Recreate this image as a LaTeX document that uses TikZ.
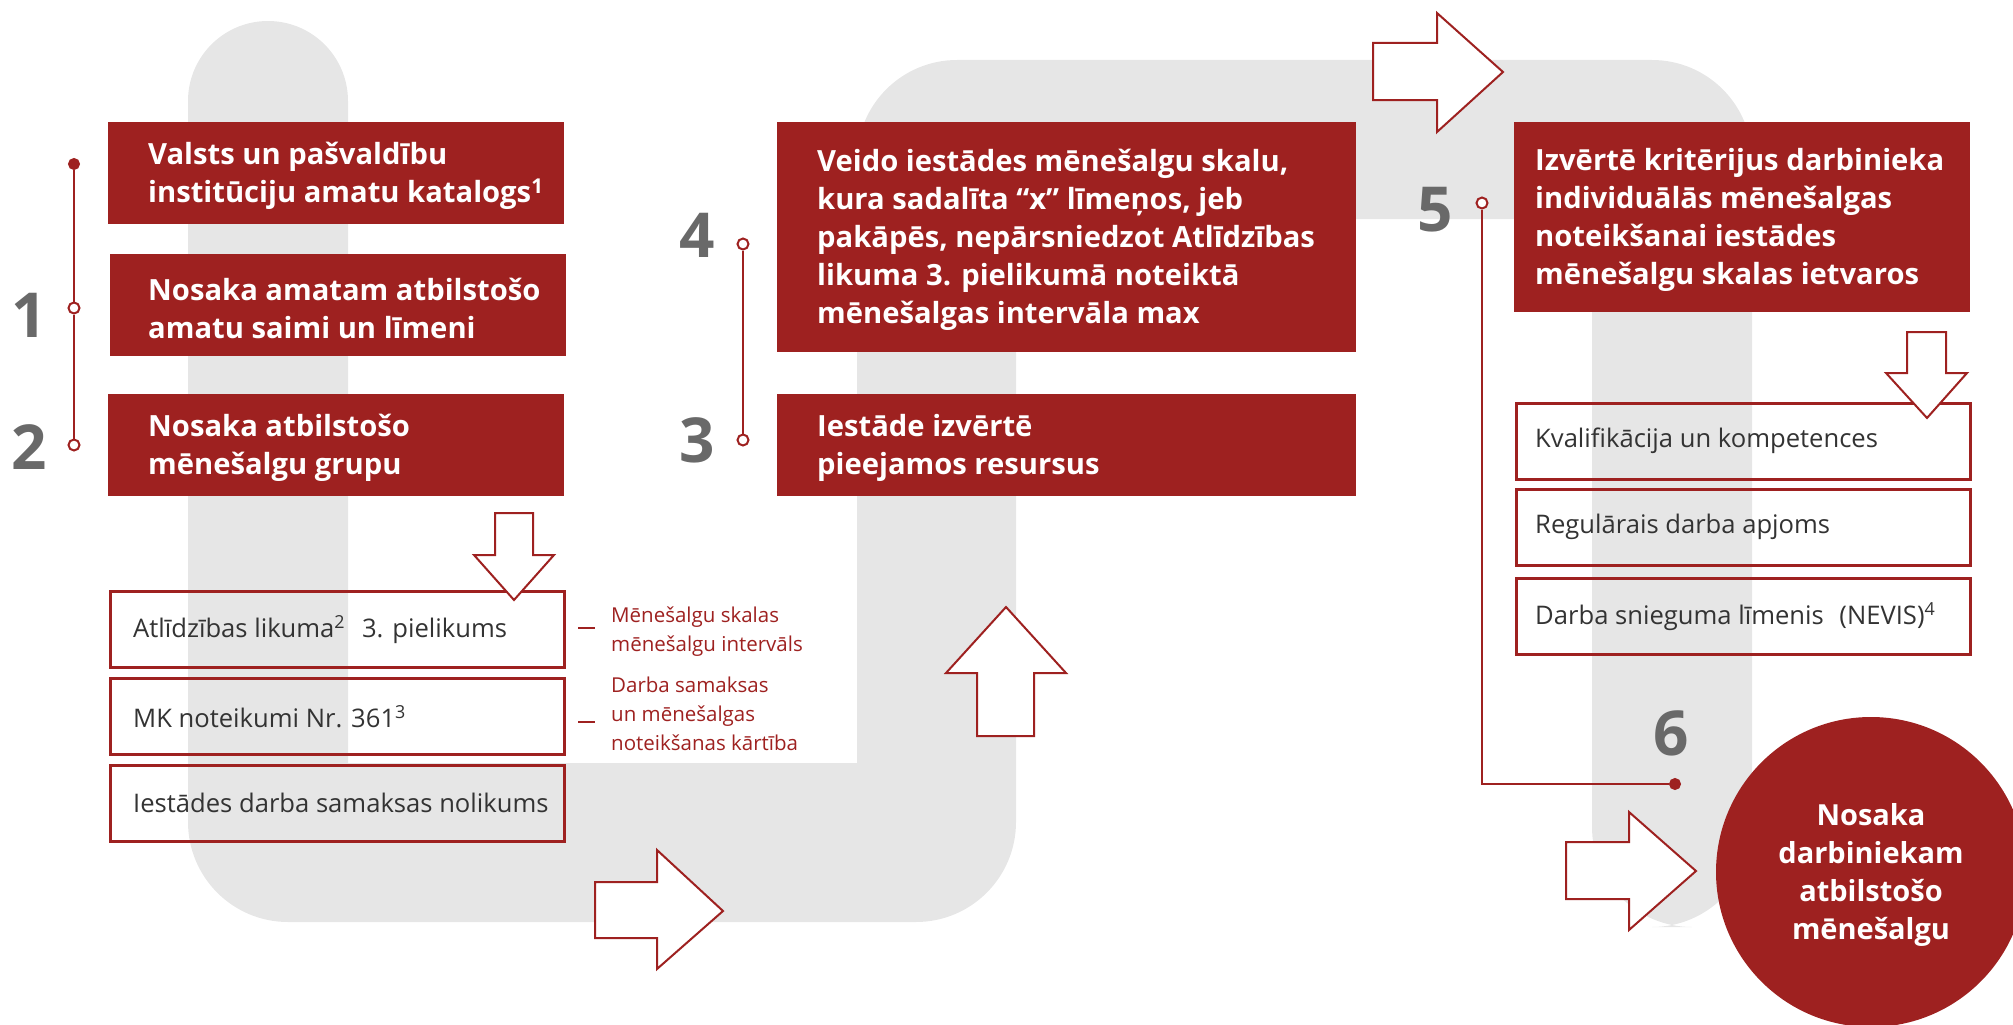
\documentclass[tikz,border=0pt]{standalone}
\usepackage{fontspec}
\setmainfont{Open Sans}
\definecolor{myred}{RGB}{158,33,32}
\definecolor{bandgray}{RGB}{230,230,230}
\definecolor{numgray}{RGB}{105,105,105}
\definecolor{txtgray}{RGB}{51,51,51}
\begin{document}
\begin{tikzpicture}[x=1pt,y=-1pt,
  redbox/.style={fill=myred, draw=none, inner sep=0pt, anchor=north west},
  whitebox/.style={draw=myred, line width=2.5pt, inner sep=0pt, anchor=north west},
  redtext/.style={text=white, font=\bfseries\fontsize{29.2}{38}\selectfont, align=left, inner sep=0pt, anchor=west},
  graytext/.style={text=txtgray, font=\fontsize{25.6}{30}\selectfont, align=left, inner sep=0pt, anchor=west},
  labeltext/.style={text=myred, font=\fontsize{20.5}{29}\selectfont, align=left, inner sep=0pt, anchor=west},
  numtext/.style={text=numgray, font=\bfseries\fontsize{62}{62}\selectfont, inner sep=0pt},
  blockarrow/.style={draw=myred, fill=white, line width=2pt, line join=miter},
  tline/.style={draw=myred, line width=2.2pt},
  opendot/.style={circle, draw=myred, fill=white, line width=2pt, minimum size=11pt, inner sep=0pt},
  filldot/.style={circle, draw=myred, fill=myred, line width=1pt, minimum size=11pt, inner sep=0pt},
]
\useasboundingbox (0,0) rectangle (2013,1025);

% gray snake band
\fill[bandgray] (188,101) arc[start angle=180, end angle=360, radius=80]
  -- (348,763) -- (857,763) -- (857,160)
  arc[start angle=180, end angle=270, radius=100]
  -- (1652,60) arc[start angle=270, end angle=360, radius=100]
  -- (1752,827) arc[start angle=0, end angle=90, radius=100]
  -- (1692,927) arc[start angle=90, end angle=180, radius=100]
  -- (1592,219) -- (1016,219) -- (1016,822)
  arc[start angle=0, end angle=90, radius=100]
  -- (288,922) arc[start angle=90, end angle=180, radius=100]
  -- cycle;

% red boxes
\node[redbox, minimum width=456pt, minimum height=102pt] (katalogs) at (108,122) {};
\node[redbox, minimum width=456pt, minimum height=102pt] (saime) at (110,254) {};
\node[redbox, minimum width=456pt, minimum height=102pt] (grupa) at (108,394) {};
\node[redbox, minimum width=579pt, minimum height=230pt] (skala) at (777,122) {};
\node[redbox, minimum width=579pt, minimum height=102pt] (resursi) at (777,394) {};
\node[redbox, minimum width=456pt, minimum height=190pt] (kriteriji) at (1514,122) {};

\node[redtext] (katalogsT) at ([xshift=40pt,yshift=-3pt]katalogs.west) {Valsts un pašvaldību\\institūciju amatu katalogs\textsuperscript{1}};
\node[redtext] (saimeT) at ([xshift=38pt,yshift=-3pt]saime.west) {Nosaka amatam atbilstošo\\amatu saimi un līmeni};
\node[redtext] (grupaT) at ([xshift=40pt,yshift=-3pt]grupa.west) {Nosaka atbilstošo\\mēnešalgu grupu};
\node[redtext] (skalaT) at ([xshift=40pt,yshift=-3pt]skala.west) {Veido iestādes mēnešalgu skalu,\\kura sadalīta “x” līmeņos, jeb\\pakāpēs, nepārsniedzot Atlīdzības\\likuma 3. pielikumā noteiktā\\mēnešalgas intervāla max};
\node[redtext] (resursiT) at ([xshift=40pt,yshift=-3pt]resursi.west) {Iestāde izvērtē\\pieejamos resursus};
\node[redtext] (kriterijiT) at ([xshift=21pt,yshift=-3pt]kriteriji.west) {Izvērtē kritērijus darbinieka\\individuālās mēnešalgas\\noteikšanai iestādes\\mēnešalgu skalas ietvaros};

% outlined boxes
\node[whitebox, minimum width=454pt, minimum height=76pt] (likums) at (109,590) {};
\node[whitebox, minimum width=454pt, minimum height=76pt] (mk) at (109,677) {};
\node[whitebox, minimum width=454pt, minimum height=76pt] (nolikums) at (109,764) {};
\node[whitebox, minimum width=454pt, minimum height=76pt] (kval) at (1515,402) {};
\node[whitebox, minimum width=454pt, minimum height=76pt] (apjoms) at (1515,488) {};
\node[whitebox, minimum width=454pt, minimum height=76pt] (nevis) at (1515,577) {};

\node[graytext] (likumsT) at ([xshift=24pt]likums.west) {Atlīdzības likuma\textsuperscript{2}\hspace{0.4em} 3. pielikums};
\node[graytext] (mkT) at ([xshift=24pt]mk.west) {MK noteikumi Nr. 361\textsuperscript{3}};
\node[graytext] (nolikumsT) at ([xshift=24pt]nolikums.west) {Iestādes darba samaksas nolikums};
\node[graytext] (kvalT) at ([xshift=20pt]kval.west) {Kvalifikācija un kompetences};
\node[graytext] (apjomsT) at ([xshift=20pt]apjoms.west) {Regulārais darba apjoms};
\node[graytext] (nevisT) at ([xshift=20pt]nevis.west) {Darba snieguma līmenis\hspace{0.35em} (NEVIS)\textsuperscript{4}};

% red side labels
\node[labeltext] (lab1) at (611,632) {Mēnešalgu skalas\\mēnešalgu intervāls};
\node[labeltext] (lab2) at (611,714) {Darba samaksas\\un mēnešalgas\\noteikšanas kārtība};
\coordinate (d1a) at (578,628); \coordinate (d1b) at (595,628);
\coordinate (d2a) at (578,722); \coordinate (d2b) at (595,722);
\draw[tline] (d1a) -- (d1b);
\draw[tline] (d2a) -- (d2b);

% block arrows
\draw[blockarrow] (495,513) -- (533,513) -- (533,555) -- (554,555) -- (514,600) -- (474,555) -- (495,555) -- cycle;
\draw[blockarrow] (977,736) -- (1034,736) -- (1034,673) -- (1066,673) -- (1006,607) -- (946,673) -- (977,673) -- cycle;
\draw[blockarrow] (595,882) -- (657,882) -- (657,850) -- (723,911) -- (657,969) -- (657,938) -- (595,938) -- cycle;
\draw[blockarrow] (1373,43) -- (1437,43) -- (1437,13) -- (1503,72) -- (1437,132) -- (1437,100) -- (1373,100) -- cycle;
\draw[blockarrow] (1907,332) -- (1946,332) -- (1946,373) -- (1967,373) -- (1927,418) -- (1886,373) -- (1907,373) -- cycle;
\draw[blockarrow] (1566,842) -- (1629,842) -- (1629,812) -- (1696,871) -- (1629,930) -- (1629,899) -- (1566,899) -- cycle;

% result circle
\node[circle, fill=myred, minimum size=310pt, inner sep=0pt] (result) at (1871,872) {};
\node[text=white, font=\bfseries\fontsize{29}{38}\selectfont, align=center, inner sep=0pt] (resultT) at ([yshift=-3pt]result.center) {Nosaka\\darbiniekam\\atbilstošo\\mēnešalgu};

% timelines
\node[filldot] (t1a) at (74,164) {};
\node[opendot] (t1b) at (74,308) {};
\node[opendot] (t1c) at (74,445) {};
\draw[tline] (t1a) -- (t1b) -- (t1c);
\node[opendot] (t2a) at (743,244) {};
\node[opendot] (t2b) at (743,440) {};
\draw[tline] (t2a) -- (t2b);
\node[opendot] (t3a) at (1482,203) {};
\node[filldot] (t3b) at (1675,784) {};
\draw[tline] (t3a) |- (t3b);

% numbers
\node[numtext] (n1) at (29,315) {1};
\node[numtext] (n2) at (29,447) {2};
\node[numtext] (n4) at (697,235) {4};
\node[numtext] (n3) at (697,440) {3};
\node[numtext] (n5) at (1435,210) {5};
\node[numtext] (n6) at (1671,733) {6};
\end{tikzpicture}
\end{document}
